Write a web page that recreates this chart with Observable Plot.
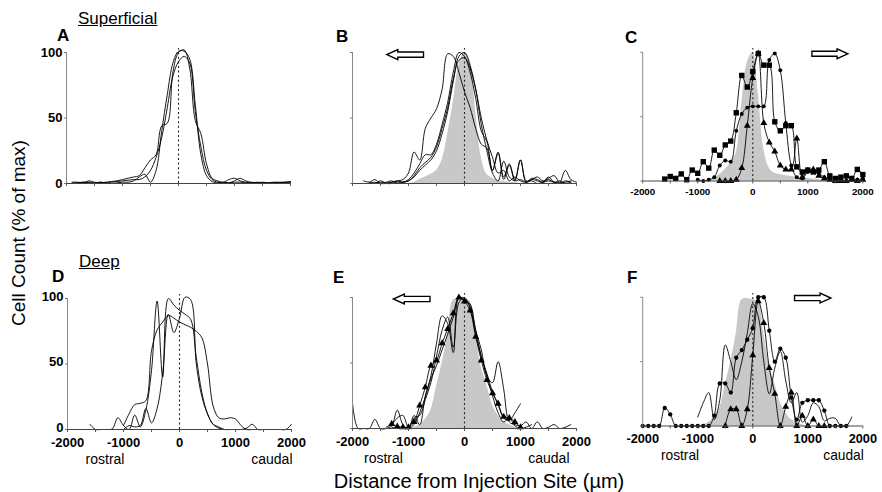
<!DOCTYPE html>
<html><head><meta charset="utf-8">
<script src="https://cdn.jsdelivr.net/npm/d3@7"></script>
<script src="https://cdn.jsdelivr.net/npm/@observablehq/plot@0.6"></script>
<style>
body{margin:0;background:#fff;}
#fig{position:relative;width:882px;height:492px;overflow:hidden;font-family:"Liberation Sans",Arial,sans-serif;color:#000;background:#fff;}
.lbl{position:absolute;white-space:nowrap;line-height:1;}
.pbox{position:absolute;}
</style></head><body><div id="fig"></div>
<script>
// distance bins (µm)
const xs = [-2000,-1900,-1800,-1700,-1600,-1500,-1400,-1300,-1200,-1100,
            -1000,-900,-800,-700,-600,-500,-400,-300,-200,-100,
            0,100,200,300,400,500,600,700,800,900,
            1000,1100,1200,1300,1400,1500,1600,1700,1800,1900,2000];
const xTickVals = [-2000,-1500,-1000,-500,0,500,1000,1500,2000];
const xLabelVals = [-2000,-1000,0,1000,2000];
const yTickVals = [0,50,100];

// reference (injection-site) profiles, shaded
const supRefB = [null,null,null,null,null,null,null,null,null,null,
  0,1,3,5,7,10,18,38,62,90, 100,94,55,20,7,4,2.5,1.5,1,0.5, 0,null,null,null,null,null,null,null,null,null,null];
const supRefC = [null,null,null,null,null,null,null,null,null,null,
  null,null,0,2,5,9,14,22,60,92, 100,68,25,10,6,5,4,3.5,3,2.5, 2,1.5,1,0.5,0,null,null,null,null,null,null];
const deepRef = [null,null,null,null,null,null,null,null,null,null,
  0,1,3,7,14,32,50,72,98,99, 98,97,72,47,33,18,10,5,3,1, 0,null,null,null,null,null,null,null,null,null,null];

// Panel A (superficial)
const A1 = [null,1,1,0.5,2,1,0.5,1,1.5,2, 3,4,5,6,12,18,22,44,46,85, 100,102,88,48,38,15,4,2,1,3, 4,2,1,0.5,1,0.5,0.5,1,1,1,1.5];
const A2 = [null,0.5,0.5,1,0.5,0,1,0.5,0,0.5, 1,1,2,5,7,1,10,40,68,92, 101,101,95,60,22,6,1.5,0.5,1,0.5, 2,4,2,1,0.5,0.5,0,0.5,0.5,1,1];
const A3 = [null,null,0.5,1,1,0.5,1,0.5,1,1.5, 2,2.5,3,3,5,10,20,35,58,82, 93,97,92,55,28,10,3,1,0.5,0.5, 1,1,0.5,0.5,0.5,1,0.5,0.5,0.5,0.5,1];
// Panel B
const B1 = [null,null,null,1,0,2,0.5,1,2,3, 8,24,18,42,50,57,72,99,97,85, 70,58,42,30,27,10,23,3,14,2, 18,1,4,3,1,2,1,0.5,1,2,null];
const B2 = [null,null,null,null,0,1,0,0,1,1, 3,8,15,22,22,30,45,62,85,100, 97,85,65,40,32,10,24,5,15,3, 18,2,3,5,2,4,6,1,10,3,1];
const B3 = [null,null,2,1,3,0,1,2,0,1, 2,5,10,14,18,25,38,55,78,97, 100,90,72,45,25,8,2,17,5,2, 3,1,2,0,1,3,1,2,0,1,null];
const B4 = [null,null,null,0,1,0,0,1,2,1, 2,6,12,16,20,28,42,58,80,94, 96,88,72,50,33,20,8,10,2,5, 2,1,3,2,1,5,1,0,2,1,null];
// Panel C (markers)
const Csq = [null,null,null,null,1.5,3.5,2,5.5,1,8.5, 6,15,10,24,20,28,31,53,82,73, 85,99,90,90,46,39,43,43,11,7, 8.5,7,8.5,15,4,2,3,4,2,9,5];
const Ccirc = [null,null,null,null,null,null,null,null,null,null, 1,0,1,3,12,16,15,39,52,57, 58,58,58,94,99,86,45,12,3,2, 7,8,6,3,2,1,1,0,1,1,2];
const Ctri = [null,null,null,null,null,null,null,null,null,null, null,null,null,null,0,0,0,1,10,43, 80,99,45,30,23,12,9,9,33,3, 8,9,4,2,1,0,0,0,1,0,1];
// Panel D (deep)
const D1 = [null,null,null,null,4,0,0,0,0.5,9, 3,0,11,2,15,45,98,40,100,95, 91,88,84,55,28,12,4,1,0,0, 0,0,1,4,0,0,0,0,0,0,4];
const D2 = [null,null,null,null,null,null,null,null,null,null, 0,3,2,3,16,5,16,43,88,74, 85,101,99,50,25,12,4,2,0,0, 0,0,0,0,0,0,0,0,null,null,null];
const D3 = [null,null,null,null,null,null,null,null,null,null, 3,12,19,20,22,60,76,82,87,85, 82,80,78,75,70,50,18,9,8,9, 8,3,0,0,0,0,0,0,0,0,null];
// Panel E
const Etri = [null,null,null,null,null,null,null,3.5,1.5,1, 1,5,17.5,31.5,48,52,65,76,88,100, 97,90,70,52,37,27,19,9,8,5, 1,null,null,null,null,null,null,null,null,null,null];
const Eb = [19,0,0,0,7,0,0,2,14,3, 0,10,3,25,40,65,86,80,58,100, 98,95,75,60,40,35,51,30,5,3, 2,5,0,5,0,1,3,0,1,3,null];
const Ec = [null,null,null,null,null,null,1,3,8,10, 1,8,10,22,35,55,75,85,62,96, 100,92,72,55,42,28,18,8,6,12, 19,null,null,null,null,null,null,null,null,null,null];
const Ed = [null,null,null,null,null,null,null,1,0,0, 0,3,12,24,38,48,60,72,85,100, 99,93,75,55,40,25,12,5,8,2, 0,1,3,null,null,null,null,null,null,null,null];
// Panel F
const Fcirc = [0,0,0,0,14,9,0,0,0,0, 0,0,0,8,33,33,26,53,59,67, 76,100,100,74,50,60,53,22,5,18, 20,20,20,12,0,0,0,0,null,null,null];
const Ftri = [null,null,null,null,null,null,null,null,null,null, null,null,null,null,null,0,13,13,0,13, 55,97,80,45,25,0,15,26,0,8, 0,5,0,0,null,null,null,null,null,null,null];
const Fthin = [null,null,null,null,null,null,null,null,null,null, 7,18,26,5,20,63,50,36,50,72, 95,85,50,25,45,58,35,18,26,3, 8,18,15,4,6,6,0,0,7,null,null];

// direction arrows (tail -> tip, in data units)
const arrowPanels = ["B","C","E","F"];
const arrowTail = [-723, 1084, -607, 768];
const arrowTip = [-1379, 1738, -1263, 1429];
const arrowY = [98, 98.5, 98.5, 99];

// rostral / caudal labels
const dirPanels = ["D","E","F"];
const rostralX = [-1330, -1447, -1322];
const caudalX = [2018, 1875, 2018];

const panels = [
  {id:"A", left:66, top:52, gray:null, series:[{v:A1},{v:A2},{v:A3}], xLab:false, yLab:true, yDy:0, xFont:10, xPad:4},
  {id:"B", left:352, top:52, gray:supRefB, series:[{v:B1},{v:B2},{v:B3},{v:B4}], xLab:false, yLab:false, xFont:10, xPad:4},
  {id:"C", left:643, top:52, gray:supRefC, series:[{v:Csq, sym:"square", r:3.1},{v:Ccirc, sym:"circle", r:2},{v:Ctri, sym:"triangle", r:2.6}], xLab:true, yLab:false, xFont:10, xPad:4},
  {id:"D", left:67, top:298, gray:null, series:[{v:D1},{v:D2},{v:D3}], xLab:true, yLab:true, yDy:-2, xFont:13, xPad:5},
  {id:"E", left:352, top:297, gray:deepRef, series:[{v:Etri, sym:"triangle", r:2.6},{v:Eb},{v:Ec},{v:Ed}], xLab:true, yLab:false, xFont:13, xPad:5},
  {id:"F", left:643, top:297, gray:deepRef, series:[{v:Fcirc, sym:"circle", r:2.2},{v:Ftri, sym:"triangle", r:2.6},{v:Fthin}], xLab:true, yLab:false, xFont:13, xPad:5}
];

const W = 224, H = 131, ML = 45, MR = 20, MT = 12, MB = 45;
const rowsOf = v => xs.map((x,i) => ({x, y: v[i]})).filter(d => d.y != null);

function arrowMark(tail, tip, y) {
  return (index, scales) => {
    const X1 = scales.x(tail), X2 = scales.x(tip), Y = scales.y(y);
    const dir = Math.sign(X2 - X1);
    const hl = 11, hh = 5, sh = 2.6;
    const Xh = X2 - dir * hl;
    const pts = [[X1,Y-sh],[Xh,Y-sh],[Xh,Y-hh],[X2,Y],[Xh,Y+hh],[Xh,Y+sh],[X1,Y+sh]];
    const p = document.createElementNS("http://www.w3.org/2000/svg","path");
    p.setAttribute("d","M"+pts.map(q=>q[0].toFixed(1)+","+q[1].toFixed(1)).join("L")+"Z");
    p.setAttribute("fill","#fff");
    p.setAttribute("stroke","#000");
    p.setAttribute("stroke-width","1.4");
    return p;
  };
}

const fig = document.getElementById("fig");

for (const P of panels) {
  const marks = [];
  if (P.gray) marks.push(Plot.areaY(rowsOf(P.gray), {x:"x", y:"y", fill:"#c8c8c8", curve:"catmull-rom"}));
  marks.push(Plot.ruleX([0], {y1:0, y2:103, stroke:"#222", strokeWidth:1.1, strokeDasharray:"2,2.6"}));
  for (const s of P.series) {
    const rows = rowsOf(s.v);
    marks.push(Plot.line(rows, {x:"x", y:"y", stroke:"#000", strokeWidth:0.9, curve:"catmull-rom"}));
    if (s.sym) marks.push(Plot.dot(rows, {x:"x", y:"y", symbol:s.sym, r:s.r, fill:"#000", stroke:"none"}));
  }
  marks.push(Plot.ruleX([-2000], {y1:0, y2:100, stroke:"#888", strokeWidth:1}));
  marks.push(Plot.ruleY([0], {x1:-2000, x2:2000, stroke:"#444", strokeWidth:1}));
  marks.push(Plot.axisX({ticks:xTickVals, tickSize:3, tickPadding:P.xPad, label:null,
    tickFormat: d => (P.xLab && xLabelVals.includes(d)) ? String(d) : "",
    fontSize:P.xFont, fontWeight:"bold", stroke:"#555", fill:"#000"}));
  marks.push(Plot.axisY({ticks:yTickVals, tickSize:2, tickPadding:2, label:null,
    tickFormat: () => "", stroke:"#777", fill:"#000"}));
  if (P.yLab) marks.push(Plot.text(yTickVals, {x:() => -2000, y:d=>d, text:d=>String(d), textAnchor:"end", dx:-4, dy:P.yDy, fontSize:13, fontWeight:"bold", fill:"#000"}));
  const ai = arrowPanels.indexOf(P.id);
  if (ai >= 0) marks.push(arrowMark(arrowTail[ai], arrowTip[ai], arrowY[ai]));
  const di = dirPanels.indexOf(P.id);
  if (di >= 0) {
    marks.push(Plot.text(["rostral"], {x:[rostralX[di]], y:[0], text:d=>d, dy:30, fontSize:14, textAnchor:"middle", fill:"#000"}));
    marks.push(Plot.text(["caudal"], {x:[caudalX[di]], y:[0], text:d=>d, dy:30, fontSize:14, textAnchor:"end", fill:"#000"}));
  }
  const svg = Plot.plot({
    width: W + ML + MR, height: H + MT + MB,
    marginLeft: ML, marginRight: MR, marginTop: MT, marginBottom: MB,
    x: {type:"linear", domain:[-2000,2000]}, y: {type:"linear", domain:[0,100]},
    style: {background:"none", overflow:"visible", fontFamily:"'Liberation Sans', Arial, sans-serif", color:"#000"},
    marks
  });
  const box = document.createElement("div");
  box.className = "pbox";
  box.style.left = (P.left - ML) + "px";
  box.style.top = (P.top - MT) + "px";
  box.appendChild(svg);
  fig.appendChild(box);
}

// panel letters and headings
const letterIds = ["A","B","C","D","E","F"];
const letterLeft = [57, 336, 625, 52, 333, 627];
const letterTop = [26.5, 28, 29, 267.5, 268.5, 268.5];
letterIds.forEach((t,i) => {
  const d = document.createElement("div");
  d.className = "lbl"; d.textContent = t;
  d.style.cssText += `left:${letterLeft[i]}px;top:${letterTop[i]}px;font-size:17px;font-weight:bold;`;
  fig.appendChild(d);
});
const headText = ["Superficial","Deep"];
const headLeft = [78, 79];
const headTop = [9.5, 252.5];
headText.forEach((t,i) => {
  const d = document.createElement("div");
  d.className = "lbl"; d.textContent = t;
  d.style.cssText += `left:${headLeft[i]}px;top:${headTop[i]}px;font-size:17px;text-decoration:underline;`;
  fig.appendChild(d);
});
const yt = document.createElement("div");
yt.className = "lbl"; yt.textContent = "Cell Count (% of max)";
yt.style.cssText += "left:18px;top:233px;font-size:19px;transform:translate(-50%,-50%) rotate(-90deg);";
fig.appendChild(yt);
const xt = document.createElement("div");
xt.className = "lbl"; xt.textContent = "Distance from Injection Site (µm)";
xt.style.cssText += "left:479px;top:481px;font-size:20px;transform:translate(-50%,-50%);";
fig.appendChild(xt);
</script></body></html>
